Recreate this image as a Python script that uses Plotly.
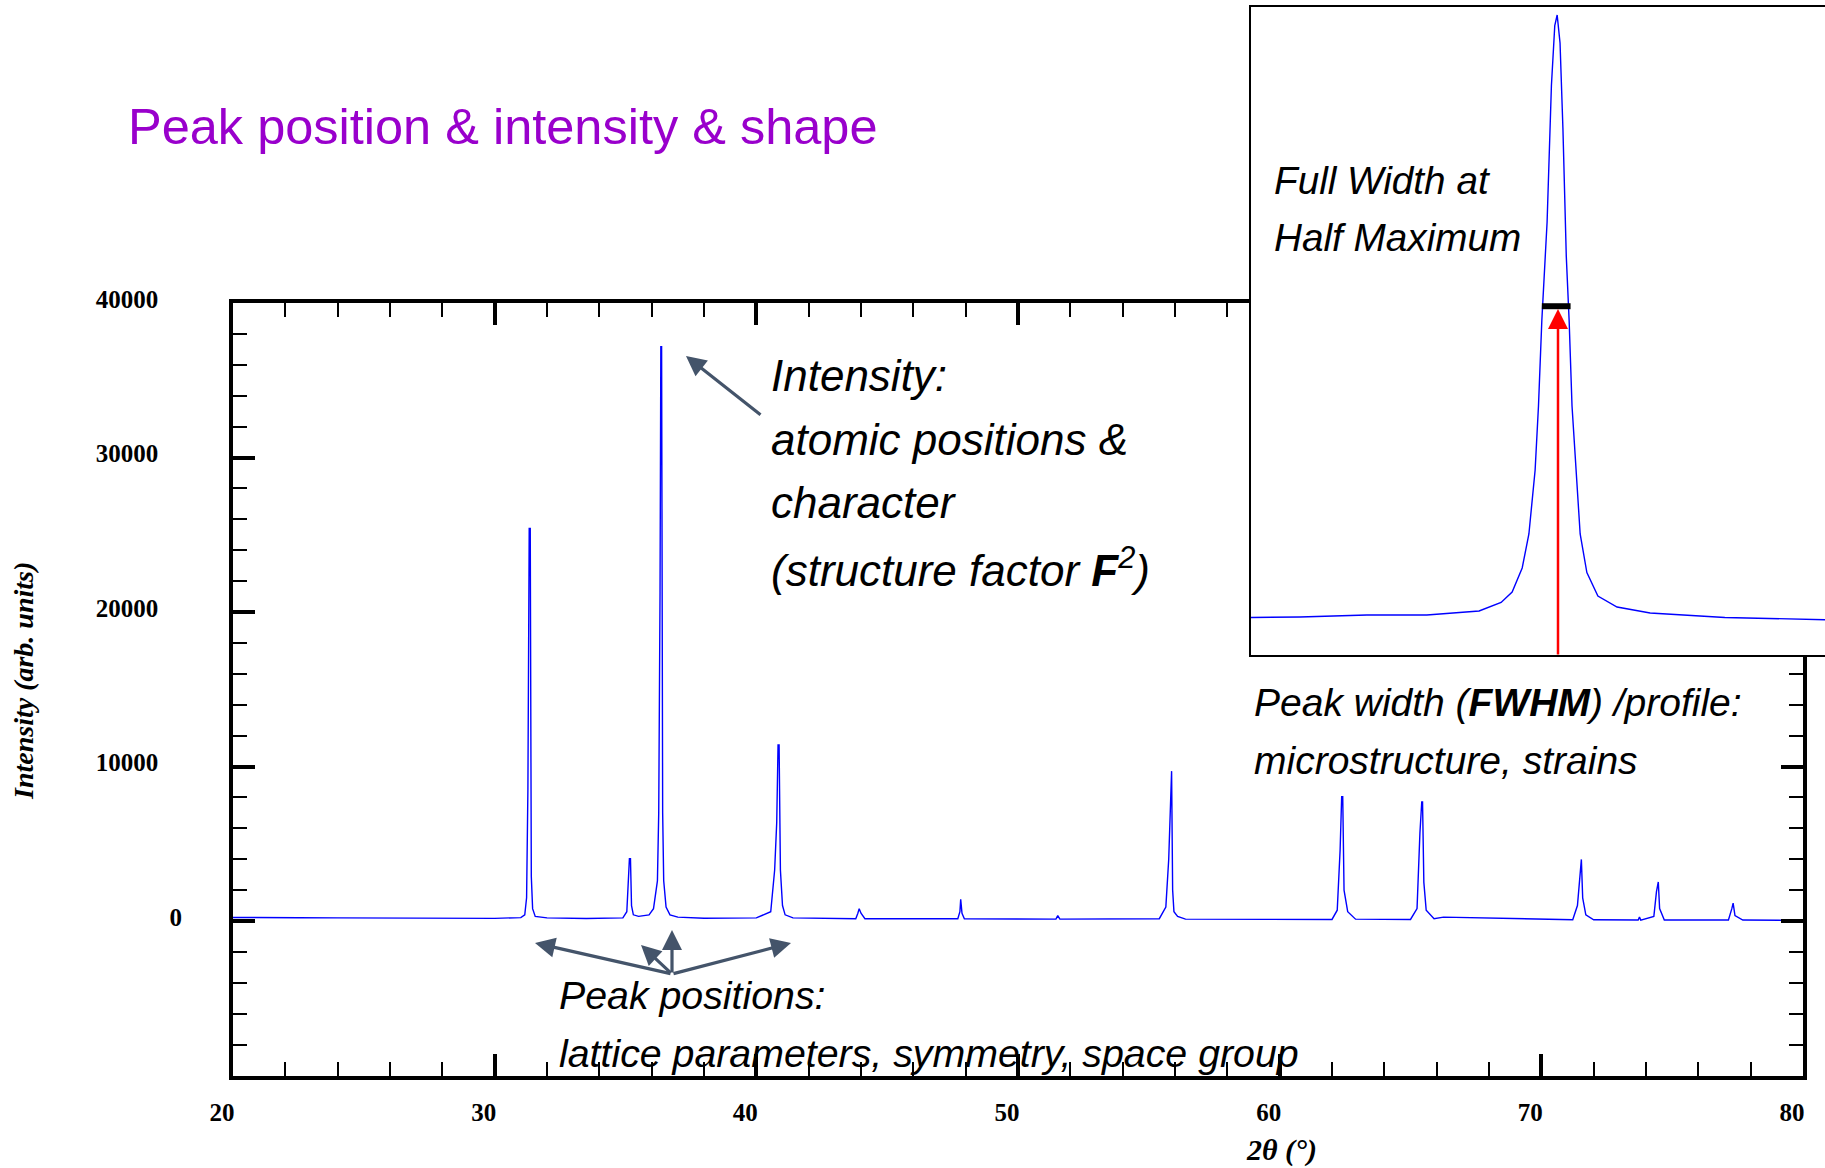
import plotly.graph_objects as go

# ---------------- data ----------------
two_theta = [20.00, 21.00, 22.50, 24.00, 26.00, 28.00, 30.00, 31.00, 31.15, 31.22, 31.27, 31.32, 31.36,
             31.40, 31.45, 31.55, 32.00, 33.50, 34.90, 35.05, 35.10, 35.15, 35.19, 35.23, 35.30, 35.50,
             35.90, 36.07, 36.22, 36.27, 36.32, 36.35, 36.38, 36.42, 36.46, 36.55, 36.70, 37.00, 38.00,
             40.00, 40.55, 40.70, 40.78, 40.83, 40.87, 40.92, 41.00, 41.10, 41.40, 43.80, 43.88, 43.93,
             44.00, 44.15, 47.70, 47.78, 47.81, 47.86, 47.95, 51.45, 51.52, 51.60, 55.40, 55.65, 55.76,
             55.83, 55.87, 55.91, 55.96, 56.10, 56.40, 62.00, 62.20, 62.31, 62.37, 62.41, 62.46, 62.60,
             62.90, 65.00, 65.25, 65.36, 65.43, 65.46, 65.51, 65.60, 65.90, 66.26, 71.20, 71.38, 71.47,
             71.53, 71.58, 71.70, 72.00, 73.70, 73.75, 73.80, 74.30, 74.40, 74.47, 74.52, 74.70, 77.15,
             77.28, 77.33, 77.40, 77.70, 80.00]
intensity = [230, 240, 210, 200, 190, 180, 170, 220, 400, 1500, 8500, 25400, 25400,
             2900, 800, 300, 200, 160, 200, 600, 3000, 4030, 4030, 1000, 400, 300,
             400, 800, 2600, 7000, 21300, 37170, 37170, 7000, 2600, 900, 400, 250, 180,
             200, 600, 3300, 6400, 11400, 11400, 3300, 1000, 400, 200, 150, 500, 800,
             500, 150, 150, 600, 1400, 500, 150, 120, 350, 120, 150, 900, 4000,
             8500, 9700, 2000, 600, 300, 120, 100, 700, 4600, 8050, 8050, 2000, 600,
             120, 100, 800, 5700, 7710, 7710, 2500, 700, 150, 250, 80, 1000, 3000,
             3985, 1500, 400, 80, 60, 250, 60, 300, 1900, 2527, 800, 60, 60,
             800, 1157, 350, 60, 40]

# zoomed view of the strongest reflection (inset)
inset_two_theta = [35.689, 35.793, 35.933, 36.058, 36.167, 36.213, 36.236, 36.257, 36.271, 36.284,
                   36.291, 36.298, 36.309, 36.318, 36.325, 36.330, 36.336, 36.342, 36.349, 36.355,
                   36.361, 36.369, 36.378, 36.392, 36.415, 36.455, 36.524, 36.680, 36.889]
inset_intensity = [200, 231, 353, 353, 599, 1120, 1765, 3237, 5324, 9251,
                   13178, 18424, 24468, 32844, 36519, 37170, 35455, 30239, 22385, 18424,
                   13178, 9251, 5324, 2955, 1519, 844, 476, 200, 65]

fwhm_left = 36.298
fwhm_right = 36.358
half_max = 19300

x_tick_vals = [20, 30, 40, 50, 60, 70, 80]
x_tick_text = ["20", "30", "40", "50", "60", "70", "80"]
y_tick_vals = [0, 10000, 20000, 30000, 40000]
y_tick_text = ["0", "10000", "20000", "30000", "40000"]

# ---------------- layout helpers ----------------
W, H = 1825, 1168


def px(x):
    return x / W


def py(y):
    return 1 - y / H


NB = "\u00a0" * 3 + "\u2009"
y_tick_labels = [t if t == "0" else t + NB for t in y_tick_text]

SERIF = "Liberation Serif"
SANS = "Liberation Sans"
ARROW = "#44546A"

fig = go.Figure()

fig.add_trace(go.Scatter(x=two_theta, y=intensity, mode="lines",
                         line=dict(color="#0000FF", width=1.4),
                         xaxis="x", yaxis="y", showlegend=False, hoverinfo="skip"))

fig.add_trace(go.Scatter(x=inset_two_theta, y=inset_intensity, mode="lines",
                         line=dict(color="#0000FF", width=1.4),
                         xaxis="x2", yaxis="y2", showlegend=False, hoverinfo="skip"))

tick_font = dict(family=SERIF, size=25, color="black", weight="bold")

fig.update_layout(
    width=W, height=H,
    margin=dict(l=0, r=0, t=0, b=0, pad=0, autoexpand=False),
    paper_bgcolor="white",
    plot_bgcolor="white",
    showlegend=False,
    xaxis=dict(
        domain=[px(233), px(1803)], range=[20, 80],
        tickmode="array", tickvals=x_tick_vals, ticktext=x_tick_text,
        ticks="inside", ticklen=22, tickwidth=4, tickcolor="black",
        minor=dict(tickmode="linear", tick0=20, dtick=2, ticks="inside",
                   ticklen=14, tickwidth=1.5, tickcolor="black"),
        showline=True, linewidth=4, linecolor="black", mirror="allticks",
        showgrid=False, zeroline=False, automargin=False,
        tickfont=tick_font, ticklabelstandoff=11, ticklabelshift=-11,
        anchor="y",
    ),
    yaxis=dict(
        domain=[py(1075.5), py(303)], range=[-10000, 40000],
        tickmode="array", tickvals=y_tick_vals, ticktext=y_tick_labels,
        ticks="inside", ticklen=22, tickwidth=4, tickcolor="black",
        minor=dict(tickmode="linear", tick0=0, dtick=2000, ticks="inside",
                   ticklen=14, tickwidth=1.5, tickcolor="black"),
        showline=True, linewidth=4, linecolor="black", mirror="allticks",
        showgrid=False, zeroline=False, automargin=False,
        tickfont=tick_font, ticklabelstandoff=42, ticklabelshift=-4,
        anchor="x",
    ),
    xaxis2=dict(
        domain=[px(1251), 1.0], range=[35.691, 36.889],
        showticklabels=False, ticks="", showgrid=False, zeroline=False,
        showline=True, linewidth=2, linecolor="black", mirror=True,
        automargin=False, anchor="y2",
    ),
    yaxis2=dict(
        domain=[py(655), py(7.4)], range=[-2101, 37636],
        showticklabels=False, ticks="", showgrid=False, zeroline=False,
        showline=True, linewidth=2, linecolor="black", mirror=False,
        automargin=False, anchor="x2",
    ),
)

# FWHM bar in the inset
fig.add_shape(type="line", xref="x2", yref="y2", x0=fwhm_left, x1=fwhm_right,
              y0=half_max, y1=half_max, line=dict(color="black", width=6))

ann = []


def text(t, x, y, size, family=SANS, color="black", style="italic", xanchor="left", angle=0):
    ann.append(dict(text=t, x=px(x), y=py(y), xref="paper", yref="paper",
                    xanchor=xanchor, yanchor="middle", showarrow=False, textangle=angle,
                    font=dict(family=family, size=size, color=color, style=style)))


def arrow(hx, hy, tx, ty, color=ARROW, width=3.2, size=1.25):
    ann.append(dict(text="", x=px(hx), y=py(hy), xref="paper", yref="paper",
                    ax=tx - hx, ay=ty - hy, axref="pixel", ayref="pixel",
                    showarrow=True, arrowhead=2, arrowsize=size, arrowwidth=width,
                    arrowcolor=color, standoff=0))


# title
text("Peak position &amp; intensity &amp; shape", 126, 126, 50.5, color="#9900CC", style="normal")

# axis titles
text("<b><i>Intensity (arb. units)</i></b>", 23, 681, 28, family=SERIF, style="normal",
     xanchor="center", angle=-90)
text("<b><i>2θ (°)</i></b>", 1281, 1150, 30, family=SERIF, style="normal", xanchor="center")

# intensity explanation
text("Intensity:", 769, 375, 44)
text("atomic positions &amp;", 769, 439, 44)
text("character", 769, 503, 44)
text("(structure factor <b>F</b><sup>2</sup>)", 769, 567, 44)
arrow(686, 356, 762, 416)

# peak positions explanation
text("Peak positions:", 557, 995, 39.3)
text("lattice parameters, symmetry, space group", 557, 1053, 39.3)
arrow(535, 943, 672, 974)
arrow(641, 945, 672, 974)
arrow(672, 930, 672, 974)
arrow(791, 943, 672, 974)

# peak width explanation
text("Peak width (<b>FWHM</b>) /profile:", 1252, 702, 39)
text("microstructure, strains", 1252, 760, 39)

# inset text
text("Full Width at", 1272, 180, 38.7)
text("Half Maximum", 1272, 237, 38.7)

# red arrow in inset
arrow(1558, 309, 1558, 656, color="#FF0000", width=2.5, size=1.6)

fig.update_layout(annotations=ann)

fig.write_html("out.html")
